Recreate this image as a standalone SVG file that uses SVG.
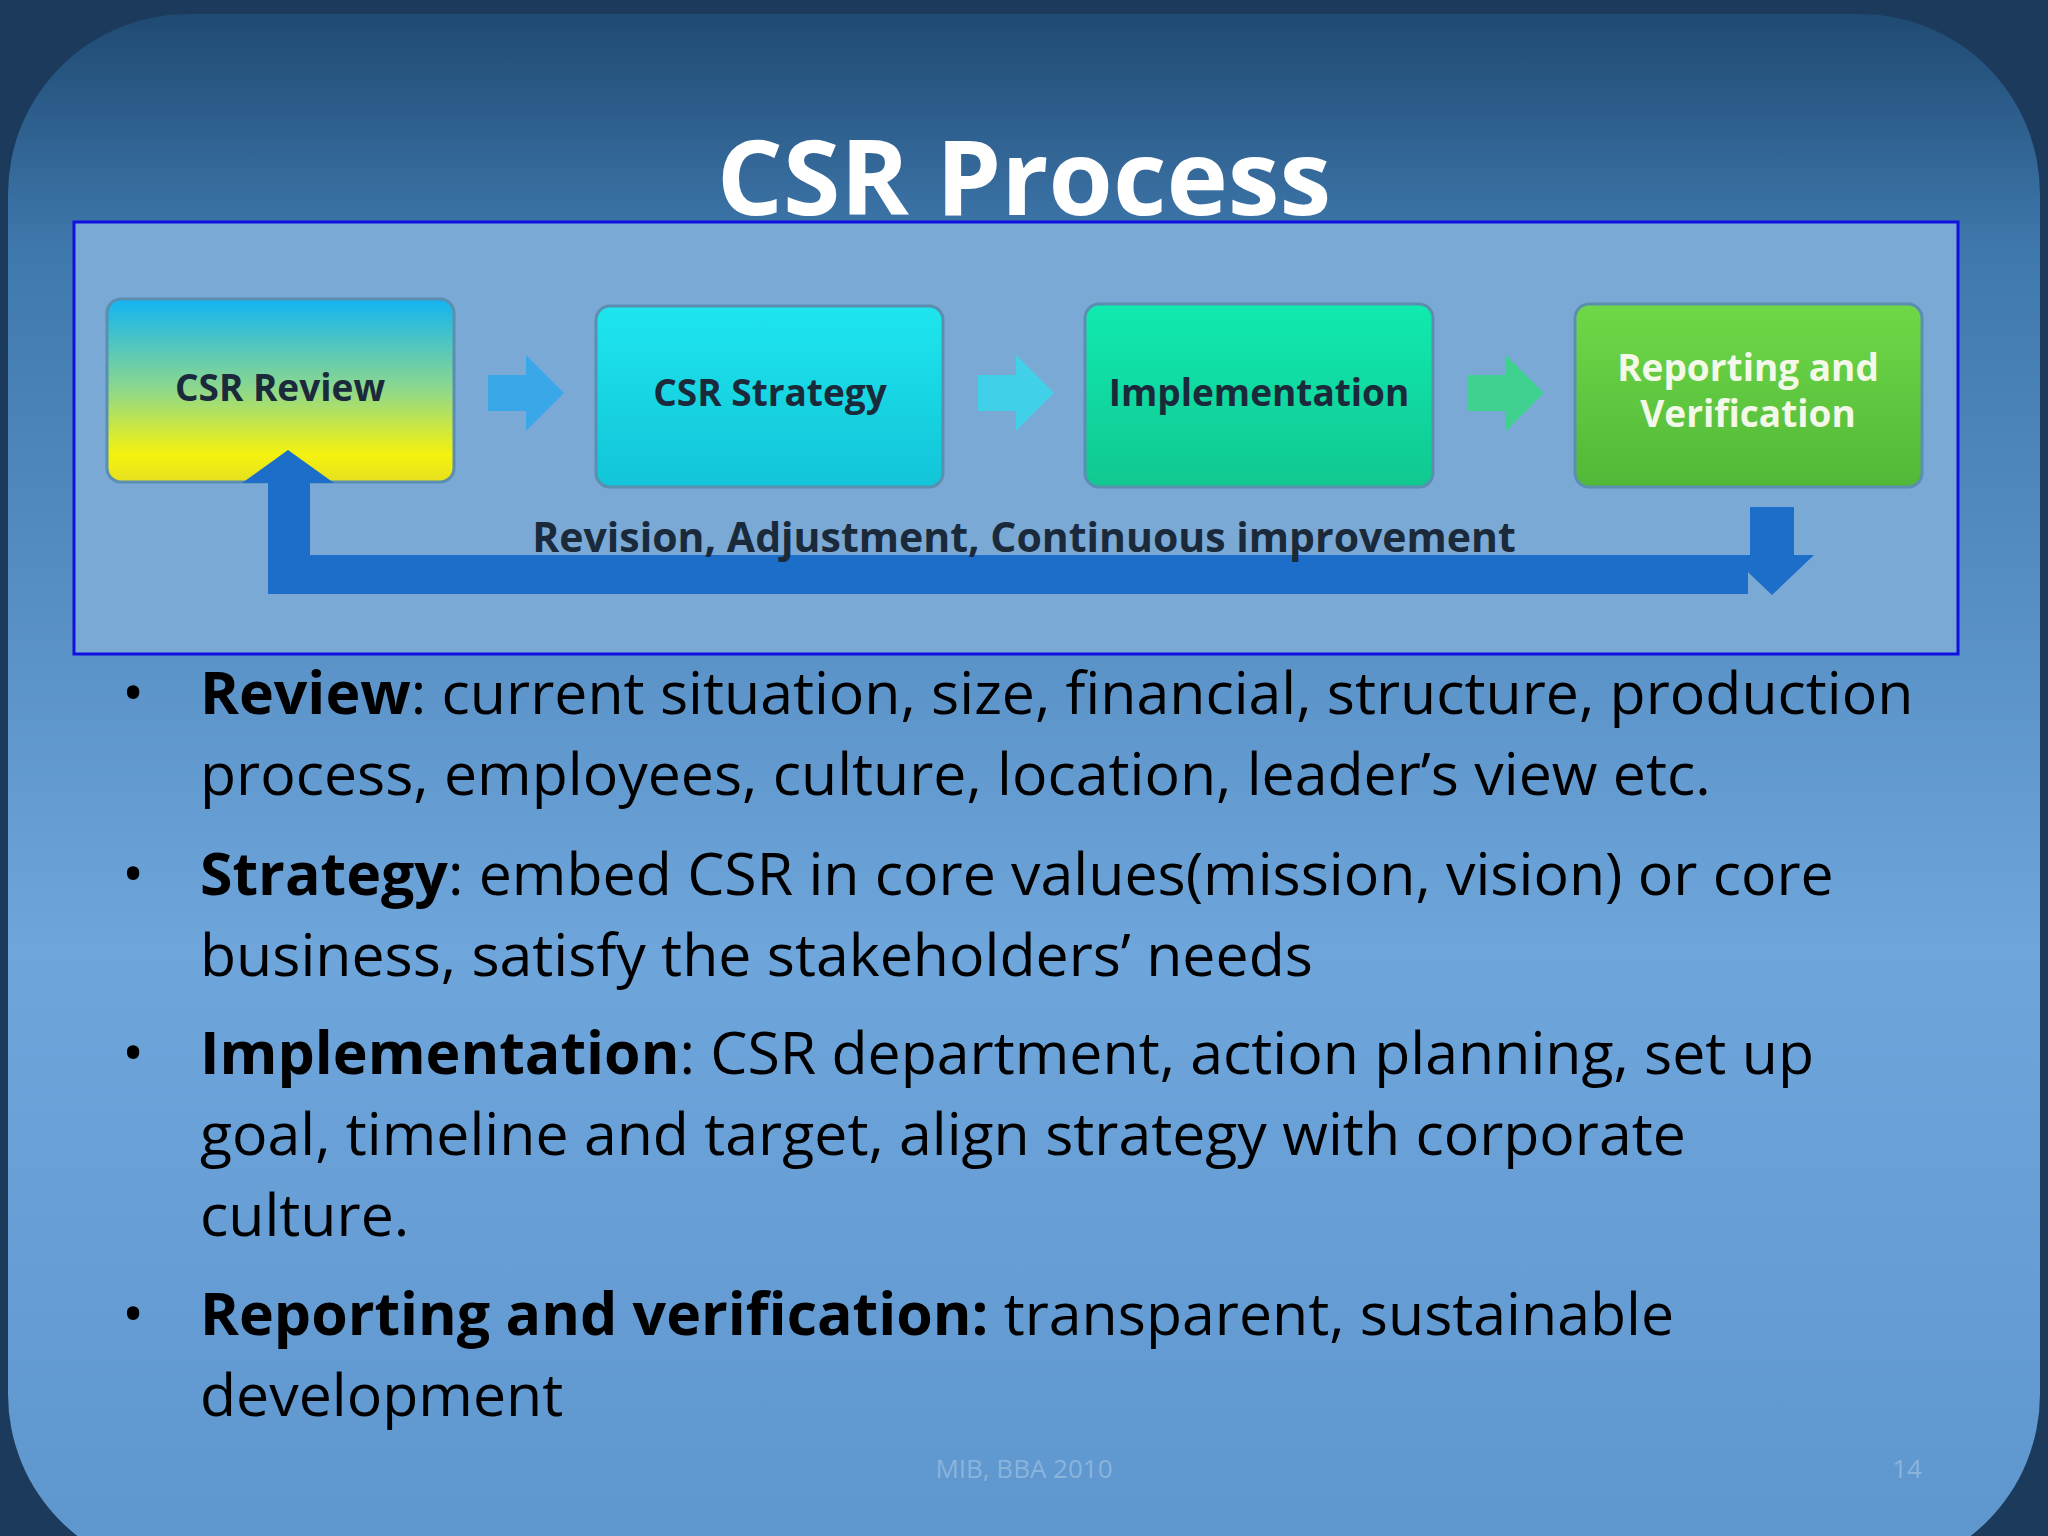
<svg xmlns="http://www.w3.org/2000/svg" width="2048" height="1536" viewBox="0 0 2048 1536">
<defs>
<linearGradient id="bg" x1="0" y1="0" x2="0" y2="1"><stop offset="0" stop-color="#1f4a72"/><stop offset="0.15" stop-color="#3f78ad"/><stop offset="0.6" stop-color="#6ea6dc"/><stop offset="1" stop-color="#5d95cd"/></linearGradient>
<linearGradient id="g1" x1="0" y1="0" x2="0" y2="1"><stop offset="0" stop-color="#12b4f4"/><stop offset="0.5" stop-color="#8fd88a"/><stop offset="0.85" stop-color="#f5f20e"/><stop offset="1" stop-color="#e6e020"/></linearGradient>
<linearGradient id="g2" x1="0" y1="0" x2="0" y2="1"><stop offset="0" stop-color="#1ee6ee"/><stop offset="1" stop-color="#12c4d8"/></linearGradient>
<linearGradient id="g3" x1="0" y1="0" x2="0" y2="1"><stop offset="0" stop-color="#10eab0"/><stop offset="1" stop-color="#10c890"/></linearGradient>
<linearGradient id="g4" x1="0" y1="0" x2="0" y2="1"><stop offset="0" stop-color="#6ed848"/><stop offset="1" stop-color="#52b838"/></linearGradient>
<style>
.box{stroke:#5a8fb0;stroke-width:3}
.bl{font-family:"Open Sans","Liberation Sans",sans-serif;font-size:37px;font-weight:bold;text-anchor:middle}
.tx{font-family:"Open Sans","Liberation Sans",sans-serif;font-size:59px;fill:#000}
</style>
</defs>
<rect width="2048" height="1536" fill="#1b3a5c"/>
<rect x="8" y="14" width="2032" height="1560" rx="180" fill="url(#bg)"/>
<text x="1024" y="215" font-family="Open Sans,Liberation Sans,sans-serif" font-size="104" font-weight="bold" fill="#fff" text-anchor="middle">CSR Process</text>
<rect x="74" y="222" width="1884" height="432" fill="#7aa9d6" stroke="#1010e0" stroke-width="3"/>
<g id="n1"><rect class="box" x="107" y="299" width="347" height="183" rx="14" fill="url(#g1)"/><text class="bl" x="280" y="401" fill="#1a2a3a">CSR Review</text></g>
<g id="n2"><rect class="box" x="596" y="306" width="347" height="181" rx="14" fill="url(#g2)"/><text class="bl" x="770" y="406" fill="#1a2a3a">CSR Strategy</text></g>
<g id="n3"><rect class="box" x="1085" y="304" width="348" height="183" rx="14" fill="url(#g3)"/><text class="bl" x="1259" y="406" fill="#1a2a3a">Implementation</text></g>
<g id="n4"><rect class="box" x="1575" y="304" width="347" height="183" rx="14" fill="url(#g4)"/><text class="bl" x="1748" y="381" font-size="35" fill="#f4f8e8">Reporting and</text><text class="bl" x="1748" y="427" font-size="35" fill="#f4f8e8">Verification</text></g>
<g id="connectors">
<path d="M488 375h38v-20l38 38-38 38v-20h-38z" fill="#3aa8e8"/>
<path d="M978 375h38v-20l38 38-38 38v-20h-38z" fill="#40d0e8"/>
<path d="M1468 375h38v-20l38 38-38 38v-20h-38z" fill="#40d090"/>
<path d="M268 594V483h-26l46-33 46 33h-24v72h1440v-48h44v48h20l-42 40-42-40h20z" fill="#1c6ec8"/>
<rect x="268" y="555" width="1480" height="39" fill="#1c6ec8"/>
<text x="1024" y="552" font-family="Open Sans,Liberation Sans,sans-serif" font-size="41" font-weight="bold" fill="#1a2a3a" text-anchor="middle">Revision, Adjustment, Continuous improvement</text>
</g>
<g class="tx">
<text x="122" y="714">•</text><text x="200" y="714"><tspan font-weight="bold">Review</tspan>: current situation, size, financial, structure, production</text>
<text x="200" y="795">process, employees, culture, location, leader’s view etc.</text>
<text x="122" y="895">•</text><text x="200" y="895"><tspan font-weight="bold">Strategy</tspan>: embed CSR in core values(mission, vision) or core</text>
<text x="200" y="976">business, satisfy the stakeholders’ needs</text>
<text x="122" y="1074">•</text><text x="200" y="1074"><tspan font-weight="bold">Implementation</tspan>: CSR department, action planning, set up</text>
<text x="200" y="1155">goal, timeline and target, align strategy with corporate</text>
<text x="200" y="1236">culture.</text>
<text x="122" y="1335">•</text><text x="200" y="1335"><tspan font-weight="bold">Reporting and verification:</tspan> transparent, sustainable</text>
<text x="200" y="1416">development</text>
</g>
<text x="1024" y="1478" font-family="Open Sans,Liberation Sans,sans-serif" font-size="26" fill="#8ab4dc" text-anchor="middle">MIB, BBA 2010</text>
<text x="1907" y="1478" font-family="Open Sans,Liberation Sans,sans-serif" font-size="26" fill="#8ab4dc" text-anchor="middle">14</text>
</svg>
